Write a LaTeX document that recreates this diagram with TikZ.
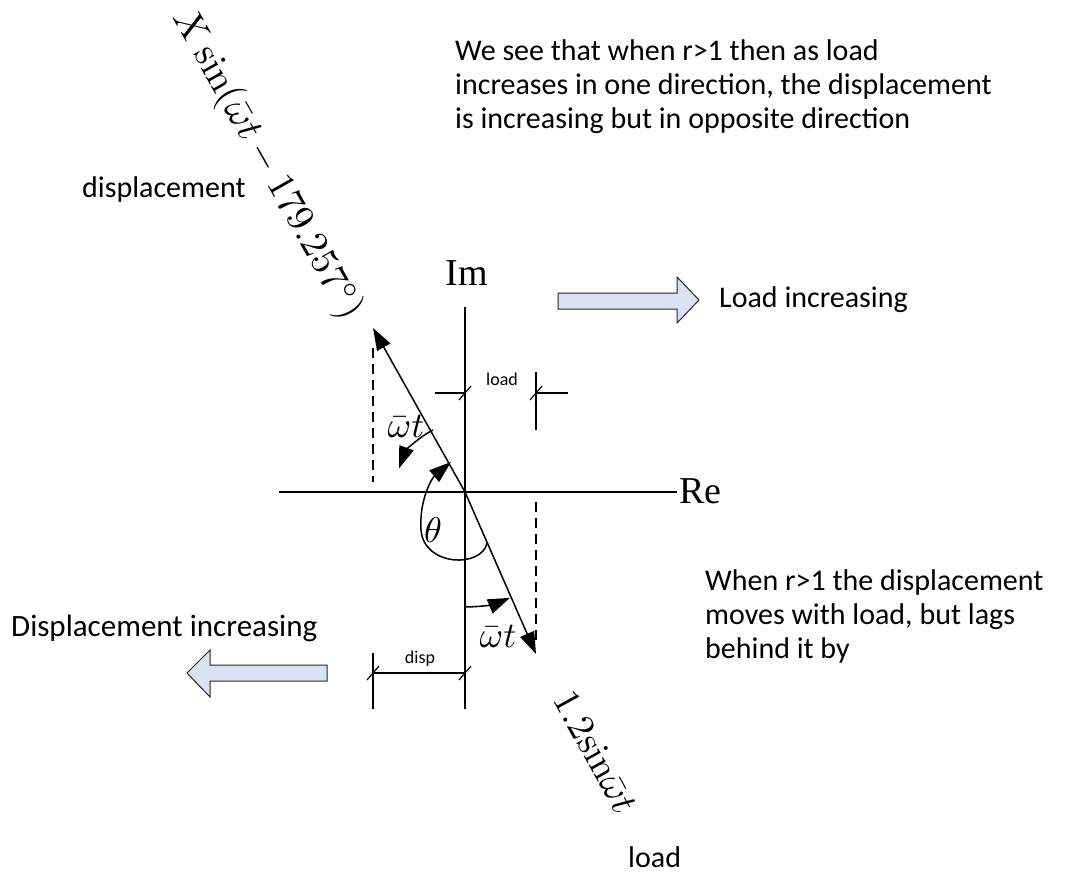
\documentclass[tikz,border=0pt]{standalone}
\usepackage[no-math]{fontspec}
\setmainfont{Carlito}
\newfontfamily\tms{Liberation Serif}
\usetikzlibrary{arrows.meta}
\definecolor{arrfill}{RGB}{218,227,243}
\begin{document}
\begin{tikzpicture}[x=1pt,y=-1pt,
  ln/.style={line width=1.5pt},
  thn/.style={line width=1.2pt},
  tri/.style={-{Triangle[length=22pt,width=15pt]}},
  dsh/.style={line width=1.4pt, dash pattern=on 10pt off 6pt},
  txt/.style={font=\fontsize{30}{34}\selectfont, inner sep=0, anchor=base west},
  small/.style={font=\fontsize{18}{20}\selectfont, inner sep=0},
  mlab/.style={font=\fontsize{10}{12}\selectfont, inner sep=0, scale=3.6, transform shape},
  axlab/.style={font=\tms\fontsize{38}{40}\selectfont, inner sep=0},
  blk/.style={draw=black!85, fill=arrfill, line width=1pt, line join=miter}
]
\useasboundingbox (0,0) rectangle (1071,875);

% axes
\coordinate (O) at (465,492);
\coordinate (ImTop) at (465,307);
\coordinate (ImBot) at (465,709);
\coordinate (ReL) at (279,492);
\coordinate (ReR) at (677,492);
\draw[ln] (ImTop) -- (ImBot);
\draw[ln] (ReL) -- (ReR);
\node[axlab, anchor=base west] (re) at (679,503) {Re};
\node[axlab, anchor=base] (im) at (467,285) {Im};

% phasors
\coordinate (D) at (373,328);
\coordinate (L) at (536,654);
\draw[ln,tri] (O) -- (D);
\draw[ln,tri] (O) -- (L);

% dashed projections
\coordinate (d1a) at (373,348); \coordinate (d1b) at (373,482);
\coordinate (d2a) at (536,502); \coordinate (d2b) at (536,640);
\draw[dsh] (d1a) -- (d1b);
\draw[dsh] (d2a) -- (d2b);

% load dimension
\coordinate (la) at (536,372); \coordinate (lb) at (536,430);
\coordinate (lh1) at (435,393); \coordinate (lh2) at (465,393);
\coordinate (lh3) at (536,393); \coordinate (lh4) at (568,393);
\draw[thn] (la) -- (lb);
\draw[thn] (lh1) -- (lh2);
\draw[thn] (lh3) -- (lh4);
\draw[thn] ([shift={(-6,7)}]lh2) -- ([shift={(6,-7)}]lh2);
\draw[thn] ([shift={(-6,7)}]lh3) -- ([shift={(6,-7)}]lh3);
\node[small] (loadlab) at (502,379) {load};

% disp dimension
\coordinate (da) at (373,653); \coordinate (db) at (373,709);
\coordinate (dh1) at (373,673); \coordinate (dh2) at (465,673);
\draw[thn] (da) -- (db);
\draw[thn] (dh1) -- (dh2);
\draw[thn] ([shift={(-6,7)}]dh1) -- ([shift={(6,-7)}]dh1);
\draw[thn] ([shift={(-6,7)}]dh2) -- ([shift={(6,-7)}]dh2);
\node[small] (displab) at (420,659) {disp};

% angle arcs
\draw[ln,tri] (433,430) arc[start angle=-117, end angle=-160, radius=70];
\draw[ln,tri] (465,607) arc[start angle=90, end angle=67, radius=115];
\draw[ln,tri] (487,543) .. controls (482,568) and (424,567) .. (421,530)
   .. controls (419,500) and (432,478) .. (451,462);

% angle labels
\node[mlab] (w1) at (406,426) {$\bar{\omega}t$};
\node[mlab] (w2) at (498,636) {$\bar{\omega}t$};
\node[mlab] (th) at (433,530) {$\theta$};

% rotated phasor labels
\node[mlab, scale=1.07, rotate=-60.5] (xl) at (267,165) {$X\sin(\bar{\omega}t-179.257^\circ)$};
\node[mlab, scale=1.05, rotate=-61] (ll) at (596,752) {$1.2\mathrm{sin}\bar{\omega}t$};

% block arrows
\draw[blk] (558,293) -- (677,293) -- (677,277) -- (699,300) -- (677,323) -- (677,309) -- (558,309) -- cycle;
\draw[blk] (327,665) -- (210,665) -- (210,650) -- (187,673) -- (210,697) -- (210,681) -- (327,681) -- cycle;

% texts
\node[txt] (t1) at (455,60) {We see that when r>1 then as load};
\node[txt] (t2) at (455,94) {increases in one direction, the displacement};
\node[txt] (t3) at (455,128) {is increasing but in opposite direction};
\node[txt] (disp) at (82,197) {displacement};
\node[txt] (li) at (719,307) {Load increasing};
\node[txt, font=\fontsize{31}{34}\selectfont] (di) at (11,636) {Displacement increasing};
\node[txt] (w1t) at (705,590) {When r>1 the displacement};
\node[txt] (w2t) at (705,624) {moves with load, but lags};
\node[txt] (w3t) at (705,658) {behind it by};
\node[txt] (ld) at (628,867) {load};
\end{tikzpicture}
\end{document}
